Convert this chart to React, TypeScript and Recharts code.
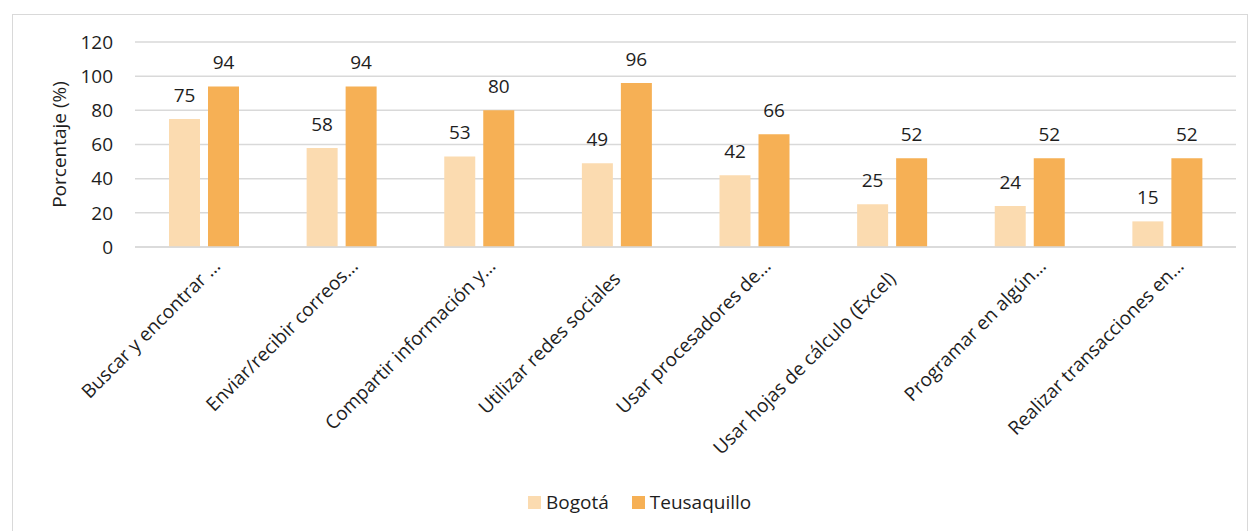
import React from 'react';
import { BarChart, Bar, XAxis, YAxis, CartesianGrid, LabelList } from 'recharts';

const categories = [
  'Buscar y encontrar …',
  'Enviar/recibir correos…',
  'Compartir información y…',
  'Utilizar redes sociales',
  'Usar procesadores de…',
  'Usar hojas de cálculo (Excel)',
  'Programar en algún…',
  'Realizar transacciones en…',
];
const bogota = [75, 58, 53, 49, 42, 25, 24, 15];
const teusaquillo = [94, 94, 80, 96, 66, 52, 52, 52];
const yTicks = [0, 20, 40, 60, 80, 100, 120];

const FONT = '"Open Sans", Lato, sans-serif';
const FS = 19;
const TEXT = '#1e1e1e';
const LIGHT = '#FBDBB0';
const ORANGE = '#F6B055';

const data = categories.map((name, i) => ({
  name,
  bogota: bogota[i],
  teusaquillo: teusaquillo[i],
}));

// etiquetas rotadas a -45 grados, como en Excel
const CategoryTick = (props: any) => {
  const { x, y, payload } = props;
  const label: string = payload.value;
  const cut = label.endsWith('…') ? 18 : 0;
  return (
    <g transform={`translate(${x + 5},${y + 33}) rotate(-45)`}>
      <text x={cut} y={0} textAnchor="end" fill={TEXT} fontSize={FS} fontFamily={FONT}>
        {label}
      </text>
    </g>
  );
};

export default function App() {
  return (
    <div style={{ position: 'absolute', left: 0, top: 0, width: 1251, height: 531, overflow: 'hidden', background: '#fff' }}>
      <div style={{ position: 'absolute', left: 12, top: 14, width: 1236, height: 560, border: '1.5px solid #d9d9d9', boxSizing: 'border-box' }} />
      <div style={{ position: 'absolute', left: 0, top: 0 }}>
        <BarChart
          width={1251}
          height={531}
          data={data}
          margin={{ top: 42, right: 15, left: 75, bottom: 84 }}
          barSize={31}
          barGap={8}
        >
          <CartesianGrid vertical={false} stroke="#d9d9d9" strokeWidth={1.5} />
          <XAxis
            dataKey="name"
            interval={0}
            height={200}
            tickLine={false}
            tickSize={0}
            tickMargin={0}
            axisLine={{ stroke: '#d9d9d9', strokeWidth: 1.5 }}
            tick={<CategoryTick />}
          />
          <YAxis
            width={60}
            domain={[0, 120]}
            ticks={yTicks}
            axisLine={false}
            tickLine={false}
            tickSize={0}
            tickMargin={22}
            tick={{ fill: TEXT, fontSize: FS, fontFamily: FONT }}
            label={{
              value: 'Porcentaje (%)',
              angle: -90,
              position: 'insideLeft',
              dx: -21,
              style: { textAnchor: 'middle', fill: TEXT, fontSize: FS, fontFamily: FONT },
            }}
          />
          <Bar dataKey="bogota" name="Bogotá" fill={LIGHT} isAnimationActive={false}>
            <LabelList dataKey="bogota" position="top" offset={17} fill={TEXT} fontSize={FS} fontFamily={FONT} />
          </Bar>
          <Bar dataKey="teusaquillo" name="Teusaquillo" fill={ORANGE} isAnimationActive={false}>
            <LabelList dataKey="teusaquillo" position="top" offset={17} fill={TEXT} fontSize={FS} fontFamily={FONT} />
          </Bar>
        </BarChart>
      </div>
      <div
        style={{
          position: 'absolute',
          top: 490,
          left: 528,
          display: 'flex',
          alignItems: 'center',
          fontFamily: FONT,
          fontSize: FS,
          color: TEXT,
          lineHeight: '24px',
        }}
      >
        <span style={{ width: 13, height: 13, background: LIGHT, display: 'inline-block', marginRight: 5 }} />
        <span style={{ marginRight: 23 }}>Bogotá</span>
        <span style={{ width: 13, height: 13, background: ORANGE, display: 'inline-block', marginRight: 5 }} />
        <span>Teusaquillo</span>
      </div>
    </div>
  );
}
